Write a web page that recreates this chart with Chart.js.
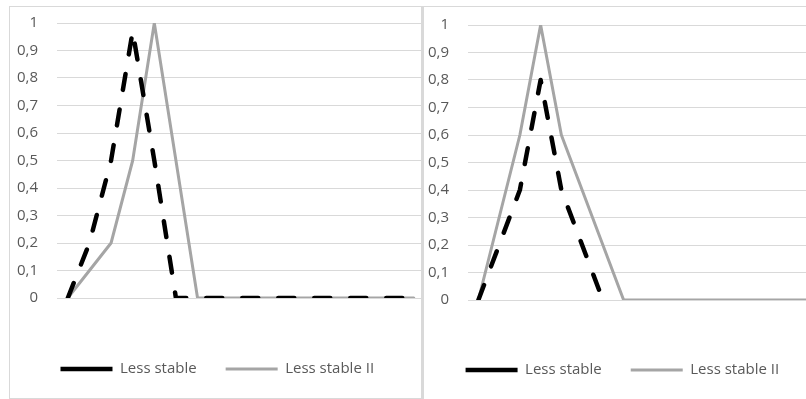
<!DOCTYPE html>
<html>
<head>
<meta charset="utf-8">
<script src="https://cdn.jsdelivr.net/npm/chart.js@4.4.1/dist/chart.umd.min.js"></script>
<style>
  html, body { margin: 0; padding: 0; background: #fff; overflow: hidden; width: 806px; height: 399px; }
  .box { position: absolute; background: #fff; }
  #leftBox { left: 9px; top: 6px; width: 425px; height: 391px; border: 1px solid #d9d9d9; }
  #rightBox { left: 421px; top: 6px; width: 397px; height: 392px; border-top: 1px solid #d9d9d9; border-left: 3px solid #d9d9d9; z-index: 2; }
  canvas { display: block; }
</style>
</head>
<body>
<div class="box" id="leftBox"><canvas id="leftChart" width="425" height="391"></canvas></div>
<div class="box" id="rightBox"><canvas id="rightChart" width="397" height="392"></canvas></div>
<script>
// categories (x labels are not shown in the picture)
const categories = ['1', '2', '3', '4', '5', '6', '7', '8', '9', '10', '11', '12', '13', '14', '15', '16', '17'];
const yTicks = ['0', '0,1', '0,2', '0,3', '0,4', '0,5', '0,6', '0,7', '0,8', '0,9', '1'];
const seriesNames = ['Less stable', 'Less stable II'];

// left panel
const leftLessStable = [0, 0.2, 0.5, 0.97, 0.5, 0, 0, 0, 0, 0, 0, 0, 0, 0, 0, 0, 0];
const leftLessStableII = [0, 0.1, 0.2, 0.5, 1, 0.5, 0, 0, 0, 0, 0, 0, 0, 0, 0, 0, 0];

// right panel
const rightLessStable = [0, 0.2, 0.4, 0.8, 0.4, 0.2, 0, null, null, null, null, null, null, null, null, null, null];
const rightLessStableII = [0, 0.3, 0.6, 1, 0.6, 0.4, 0.2, 0, 0, 0, 0, 0, 0, 0, 0, 0, 0];

const textColor = '#595959';
const font = { family: 'Open Sans', size: 15 };

function makeChart(id, dashed, solid, layoutOpts) {
  const ctx = document.getElementById(id);
  return new Chart(ctx.getContext('2d'), {
    type: 'line',
    data: {
      labels: categories,
      datasets: [
        {
          label: seriesNames[0],
          data: dashed,
          borderColor: '#000000',
          backgroundColor: 'transparent',
          borderWidth: 4.5,
          borderDash: [16, 20],
          borderCapStyle: 'round',
          borderJoinStyle: 'round',
          pointRadius: 0,
          tension: 0,
          clip: 0
        },
        {
          label: seriesNames[1],
          data: solid,
          borderColor: '#a5a5a5',
          backgroundColor: 'transparent',
          borderWidth: 3,
          borderCapStyle: 'round',
          borderJoinStyle: 'round',
          pointRadius: 0,
          tension: 0,
          clip: 0
        }
      ]
    },
    options: {
      responsive: false,
      animation: false,
      events: [],
      layout: {
        padding: { top: layoutOpts.top, left: 0, right: layoutOpts.right, bottom: 11.5 }
      },
      plugins: {
        tooltip: { enabled: false },
        legend: {
          position: 'bottom',
          labels: {
            usePointStyle: true,
            pointStyle: 'line',
            pointStyleWidth: 52,
            padding: 29,
            color: textColor,
            font: font
          }
        }
      },
      scales: {
        x: {
          offset: true,
          grid: { display: false },
          border: { display: false },
          ticks: { display: false },
          afterFit: s => { s.height = layoutOpts.xHeight; }
        },
        y: {
          min: 0,
          max: 1,
          // invisible tick marks give the gap between labels and plot
          grid: { color: '#d9d9d9', lineWidth: 1, drawTicks: true, tickLength: 19, tickColor: 'transparent' },
          border: { display: false },
          ticks: {
            stepSize: 0.1,
            padding: 0,
            color: textColor,
            font: font,
            callback: (value, index) => yTicks[index]
          },
          afterFit: s => { s.width = layoutOpts.axisWidth; }
        }
      }
    }
  });
}

makeChart('leftChart', leftLessStable, leftLessStableII, { top: 16, right: 10.4, axisWidth: 47, xHeight: 34.5 });
makeChart('rightChart', rightLessStable, rightLessStableII, { top: 18, right: 0.25, axisWidth: 44, xHeight: 33.5 });
</script>
</body>
</html>
